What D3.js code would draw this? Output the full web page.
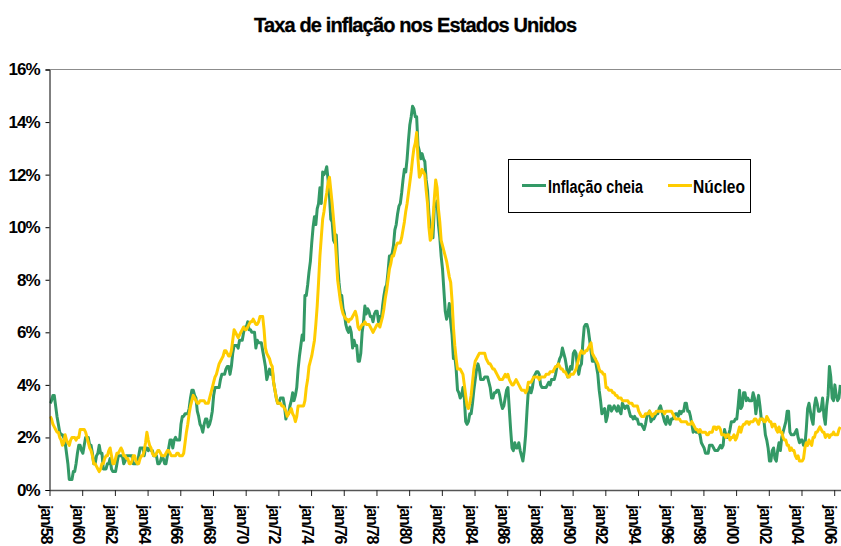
<!DOCTYPE html>
<html>
<head>
    <meta charset="UTF-8">
    <title>Taxa de inflação nos Estados Unidos</title>
    <script src="https://d3js.org/d3.v7.min.js"></script>
    <style>
        body { margin: 0; padding: 0; background: #fff; overflow: hidden; }
        svg { display: block; }
        text { font-family: "Liberation Sans", Arial, sans-serif; font-weight: bold; fill: #000; }
    </style>
</head>
<body>
<svg width="841" height="546"></svg>
<script>
// série mensal a partir de jan/1958 (variação em 12 meses, %)
const startYear = 1958;

const tickLabels = ["jan/58","jan/60","jan/62","jan/64","jan/66","jan/68","jan/70","jan/72","jan/74","jan/76",
    "jan/78","jan/80","jan/82","jan/84","jan/86","jan/88","jan/90","jan/92","jan/94","jan/96",
    "jan/98","jan/00","jan/02","jan/04","jan/06"];

const yTicks = [0, 2, 4, 6, 8, 10, 12, 14, 16];

const seriesNames = ["Inflação cheia", "Núcleo"];

// Inflação cheia (CPI)
const inflacaoCheia = [
    3.3, 3.4, 3.6, 3.6, 3.2, 2.8, 2.5, 2.2, 2.1, 2.1, 2.0, 1.8,   // 1958
    1.4, 1.0, 0.4, 0.4, 0.4, 0.7, 0.7, 1.0, 1.4, 1.7, 1.7, 1.5,   // 1959
    1.4, 1.7, 2.0, 2.0, 2.0, 1.7, 1.7, 1.4, 1.0, 1.0, 1.3, 1.4,   // 1960
    1.7, 1.4, 1.4, 0.8, 0.8, 0.8, 1.0, 1.0, 1.2, 0.8, 0.7, 0.7,   // 1961
    0.7, 1.0, 1.3, 1.3, 1.3, 1.3, 1.0, 1.1, 1.3, 1.3, 1.3, 1.3,   // 1962
    1.3, 1.0, 1.0, 1.0, 1.0, 1.3, 1.6, 1.6, 1.6, 1.3, 1.6, 1.6,   // 1963
    1.5, 1.6, 1.5, 1.5, 1.3, 1.3, 1.3, 1.0, 1.0, 1.1, 1.3, 1.2,   // 1964
    1.0, 1.0, 1.3, 1.6, 1.9, 1.9, 1.6, 1.9, 2.0, 1.9, 1.9, 1.9,   // 1965
    2.5, 2.8, 2.8, 2.9, 2.9, 2.9, 3.1, 3.5, 3.8, 3.8, 3.6, 3.5,   // 1966
    3.0, 2.8, 2.5, 2.4, 2.2, 2.5, 2.7, 2.7, 2.4, 2.5, 2.7, 3.0,   // 1967
    3.6, 3.9, 3.9, 3.9, 3.9, 4.2, 4.4, 4.4, 4.4, 4.6, 4.7, 4.7,   // 1968
    4.4, 4.7, 5.2, 5.5, 5.5, 5.5, 5.4, 5.7, 5.7, 5.7, 6.0, 6.2,   // 1969
    6.2, 6.4, 6.1, 6.1, 6.0, 6.0, 6.0, 5.4, 5.7, 5.6, 5.6, 5.6,   // 1970
    5.3, 5.0, 4.7, 4.2, 4.4, 4.6, 4.4, 4.6, 4.1, 3.8, 3.5, 3.3,   // 1971
    3.3, 3.5, 3.5, 3.5, 3.2, 2.7, 2.9, 2.9, 3.2, 3.4, 3.7, 3.4,   // 1972
    3.6, 3.9, 4.6, 5.1, 5.5, 5.9, 5.7, 7.4, 7.4, 7.8, 8.3, 8.7,   // 1973
    9.4, 10.0, 10.4, 10.1, 10.7, 10.9, 11.5, 10.9, 12.1, 12.0, 12.1, 12.3, // 1974
    11.8, 11.2, 10.3, 10.2, 9.5, 9.4, 9.7, 8.6, 7.9, 7.4, 7.4, 6.9,   // 1975
    6.7, 6.3, 6.1, 6.0, 6.2, 6.0, 5.4, 5.7, 5.5, 5.5, 4.9, 4.9,   // 1976
    5.2, 6.0, 6.4, 7.0, 6.7, 6.9, 6.8, 6.6, 6.6, 6.4, 6.7, 6.8,   // 1977
    6.8, 6.4, 6.6, 6.5, 7.0, 7.4, 7.7, 7.8, 8.3, 8.9, 8.9, 9.0,   // 1978
    9.3, 9.9, 10.1, 10.5, 10.8, 10.9, 11.3, 11.8, 12.2, 12.1, 12.6, 13.3, // 1979
    13.9, 14.2, 14.6, 14.5, 14.2, 14.2, 13.1, 12.9, 12.6, 12.8, 12.6, 12.5, // 1980
    11.8, 11.4, 10.5, 10.0, 9.8, 9.6, 10.8, 10.8, 11.0, 10.1, 9.6, 8.9, // 1981
    8.4, 7.6, 6.8, 6.5, 6.7, 7.1, 6.4, 5.9, 5.0, 5.1, 4.6, 3.8,   // 1982
    3.7, 3.5, 3.6, 3.9, 3.5, 2.6, 2.5, 2.6, 2.9, 2.9, 3.3, 3.8,   // 1983
    4.2, 4.6, 4.8, 4.6, 4.2, 4.2, 4.2, 4.3, 4.3, 4.3, 4.1, 3.9,   // 1984
    3.5, 3.5, 3.7, 3.7, 3.8, 3.8, 3.6, 3.3, 3.1, 3.2, 3.5, 3.8,   // 1985
    3.9, 3.1, 2.3, 1.6, 1.5, 1.8, 1.6, 1.6, 1.8, 1.5, 1.3, 1.1,   // 1986
    1.5, 2.1, 3.0, 3.8, 3.9, 3.7, 3.9, 4.3, 4.4, 4.5, 4.5, 4.4,   // 1987
    4.0, 3.9, 3.9, 3.9, 3.9, 4.0, 4.1, 4.0, 4.2, 4.2, 4.2, 4.4,   // 1988
    4.7, 4.8, 5.0, 5.1, 5.4, 5.2, 5.0, 4.7, 4.3, 4.5, 4.7, 4.6,   // 1989
    5.2, 5.3, 5.2, 4.7, 4.4, 4.7, 4.8, 5.6, 6.2, 6.3, 6.3, 6.1,   // 1990
    5.7, 5.3, 4.9, 4.9, 5.0, 4.7, 4.4, 3.8, 3.4, 2.9, 3.0, 3.1,   // 1991
    2.6, 2.8, 3.2, 3.2, 3.0, 3.1, 3.2, 3.1, 3.0, 3.2, 3.0, 2.9,   // 1992
    3.3, 3.2, 3.1, 3.2, 3.2, 3.0, 2.8, 2.8, 2.7, 2.8, 2.7, 2.7,   // 1993
    2.5, 2.5, 2.5, 2.4, 2.3, 2.5, 2.8, 2.9, 3.0, 2.6, 2.7, 2.7,   // 1994
    2.8, 2.9, 2.9, 3.1, 3.2, 3.0, 2.8, 2.6, 2.5, 2.8, 2.6, 2.5,   // 1995
    2.7, 2.7, 2.8, 2.9, 2.9, 2.8, 3.0, 2.9, 3.0, 3.0, 3.3, 3.3,   // 1996
    3.0, 3.0, 2.8, 2.5, 2.2, 2.3, 2.2, 2.2, 2.2, 2.1, 1.8, 1.7,   // 1997
    1.6, 1.4, 1.4, 1.4, 1.7, 1.7, 1.7, 1.6, 1.5, 1.5, 1.5, 1.6,   // 1998
    1.7, 1.6, 1.7, 2.3, 2.1, 2.0, 2.1, 2.3, 2.6, 2.6, 2.6, 2.7,   // 1999
    2.7, 3.2, 3.8, 3.1, 3.2, 3.7, 3.7, 3.4, 3.5, 3.4, 3.4, 3.4,   // 2000
    3.7, 3.5, 2.9, 3.3, 3.6, 3.2, 2.7, 2.7, 2.6, 2.1, 1.9, 1.6,   // 2001
    1.1, 1.1, 1.5, 1.6, 1.2, 1.1, 1.5, 1.8, 1.5, 2.0, 2.2, 2.4,   // 2002
    2.6, 3.0, 3.0, 2.2, 2.1, 2.1, 2.1, 2.2, 2.3, 2.0, 1.8, 1.9,   // 2003
    1.9, 1.7, 1.7, 2.3, 3.1, 3.3, 3.0, 2.7, 2.5, 3.2, 3.5, 3.3,   // 2004
    3.0, 3.0, 3.1, 3.5, 2.8, 2.5, 3.2, 3.6, 4.7, 4.3, 3.5, 3.4,   // 2005
    4.0, 3.6, 3.4, 3.5, 4.0                                        // 2006
];

// Núcleo (CPI sem alimentos e energia)
const nucleo = [
    2.8, 2.7, 2.5, 2.4, 2.3, 2.2, 2.2, 2.0, 1.9, 1.7, 1.8, 2.1,   // 1958
    1.9, 1.8, 1.7, 1.9, 2.0, 2.0, 2.0, 1.9, 2.0, 2.0, 2.3, 2.3,   // 1959
    2.3, 2.3, 2.2, 2.0, 1.8, 1.6, 1.5, 1.3, 1.0, 1.0, 0.9, 0.8,   // 1960
    0.7, 0.8, 1.0, 1.0, 1.2, 1.3, 1.3, 1.5, 1.6, 1.3, 1.0, 1.0,   // 1961
    1.2, 1.4, 1.4, 1.5, 1.6, 1.5, 1.3, 1.3, 1.2, 1.2, 1.0, 1.0,   // 1962
    1.1, 1.3, 1.3, 1.1, 1.0, 1.0, 1.2, 1.3, 1.3, 1.5, 1.8, 2.2,   // 1963
    1.9, 1.7, 1.6, 1.4, 1.3, 1.3, 1.4, 1.5, 1.5, 1.4, 1.3, 1.3,   // 1964
    1.3, 1.4, 1.5, 1.5, 1.4, 1.3, 1.3, 1.3, 1.3, 1.4, 1.4, 1.3,   // 1965
    1.3, 1.3, 1.4, 1.8, 2.2, 2.5, 2.9, 3.2, 3.4, 3.6, 3.5, 3.4,   // 1966
    3.3, 3.3, 3.4, 3.4, 3.4, 3.4, 3.3, 3.3, 3.3, 3.5, 3.7, 3.9,   // 1967
    4.1, 4.3, 4.4, 4.6, 4.8, 4.9, 5.0, 5.1, 5.3, 5.3, 5.2, 5.1,   // 1968
    5.1, 5.3, 5.7, 6.1, 6.0, 5.9, 5.8, 5.9, 6.0, 6.1, 6.2, 6.1,   // 1969
    6.1, 6.2, 6.3, 6.4, 6.4, 6.5, 6.4, 6.3, 6.3, 6.4, 6.6, 6.6,   // 1970
    6.6, 6.1, 5.4, 5.2, 5.1, 5.0, 4.8, 4.7, 4.1, 3.8, 3.5, 3.3,   // 1971
    3.3, 3.3, 3.2, 3.2, 3.1, 3.0, 2.8, 2.9, 3.0, 3.1, 2.9, 2.8,   // 1972
    2.6, 2.8, 3.2, 3.2, 3.2, 3.2, 3.2, 3.4, 3.9, 4.2, 4.7, 4.9,   // 1973
    5.1, 5.4, 5.7, 6.3, 7.0, 7.9, 8.9, 9.6, 10.3, 10.6, 11.0, 11.3, // 1974
    11.7, 11.9, 11.4, 10.9, 10.3, 9.7, 8.9, 8.0, 7.6, 7.2, 6.9, 6.7, // 1975
    6.6, 6.5, 6.5, 6.4, 6.5, 6.5, 6.6, 6.7, 6.8, 6.6, 6.2, 6.1,   // 1976
    6.2, 6.3, 6.3, 6.4, 6.3, 6.3, 6.3, 6.2, 6.1, 6.0, 6.1, 6.2,   // 1977
    6.3, 6.3, 6.2, 6.4, 6.6, 6.9, 7.3, 7.6, 8.0, 8.4, 8.6, 8.9,   // 1978
    8.9, 9.1, 9.3, 9.4, 9.4, 9.4, 9.6, 9.9, 10.2, 10.6, 10.9, 11.3, // 1979
    11.7, 12.1, 12.6, 13.0, 13.2, 13.6, 12.6, 11.9, 12.0, 12.2, 12.1, 12.0, // 1980
    11.4, 10.9, 10.0, 9.5, 9.6, 10.3, 11.1, 11.8, 11.5, 10.7, 10.2, 9.5, // 1981
    9.3, 9.1, 8.9, 8.7, 8.4, 8.1, 7.9, 7.2, 6.2, 5.5, 5.0, 4.6,   // 1982
    4.6, 4.6, 4.5, 4.4, 4.0, 3.6, 3.2, 3.1, 3.3, 3.6, 4.1, 4.6,   // 1983
    4.9, 5.0, 5.1, 5.2, 5.2, 5.2, 5.2, 5.2, 5.0, 4.9, 4.8, 4.8,   // 1984
    4.7, 4.6, 4.6, 4.5, 4.4, 4.3, 4.2, 4.2, 4.2, 4.3, 4.4, 4.3,   // 1985
    4.4, 4.2, 4.1, 4.0, 4.0, 4.1, 4.2, 4.1, 4.0, 3.9, 3.8, 3.8,   // 1986
    3.8, 3.7, 3.8, 4.1, 4.1, 4.1, 4.2, 4.3, 4.3, 4.3, 4.3, 4.2,   // 1987
    4.3, 4.3, 4.3, 4.3, 4.4, 4.4, 4.4, 4.5, 4.5, 4.5, 4.6, 4.7,   // 1988
    4.7, 4.8, 4.7, 4.6, 4.6, 4.5, 4.5, 4.4, 4.3, 4.3, 4.4, 4.4,   // 1989
    4.4, 4.5, 4.6, 4.8, 5.0, 5.2, 5.3, 5.2, 5.2, 5.3, 5.3, 5.4,   // 1990
    5.5, 5.6, 5.2, 5.1, 5.0, 4.9, 4.8, 4.6, 4.5, 4.5, 4.4, 4.4,   // 1991
    3.9, 3.9, 3.8, 3.8, 3.8, 3.7, 3.7, 3.6, 3.6, 3.5, 3.5, 3.5,   // 1992
    3.4, 3.4, 3.4, 3.4, 3.4, 3.3, 3.3, 3.3, 3.2, 3.2, 3.2, 3.2,   // 1993
    3.0, 2.9, 2.8, 2.8, 2.8, 2.9, 2.9, 2.9, 3.0, 2.9, 2.8, 2.9,   // 1994
    2.9, 3.0, 3.0, 3.0, 3.0, 3.0, 3.0, 2.9, 3.0, 3.0, 3.0, 3.0,   // 1995
    3.0, 2.9, 2.8, 2.7, 2.7, 2.7, 2.7, 2.6, 2.6, 2.6, 2.6, 2.6,   // 1996
    2.5, 2.5, 2.5, 2.6, 2.5, 2.4, 2.3, 2.3, 2.2, 2.3, 2.2, 2.2,   // 1997
    2.2, 2.2, 2.1, 2.1, 2.2, 2.2, 2.2, 2.4, 2.4, 2.3, 2.4, 2.4,   // 1998
    2.3, 2.1, 2.1, 2.1, 2.0, 2.1, 2.1, 1.9, 2.0, 2.0, 2.1, 1.9,   // 1999
    2.0, 2.2, 2.4, 2.2, 2.4, 2.5, 2.5, 2.6, 2.6, 2.5, 2.6, 2.6,   // 2000
    2.6, 2.7, 2.7, 2.6, 2.5, 2.7, 2.7, 2.7, 2.6, 2.6, 2.8, 2.7,   // 2001
    2.6, 2.6, 2.4, 2.5, 2.5, 2.3, 2.2, 2.4, 2.2, 2.2, 2.0, 1.9,   // 2002
    1.9, 1.7, 1.7, 1.5, 1.6, 1.5, 1.5, 1.3, 1.2, 1.3, 1.1, 1.1,   // 2003
    1.1, 1.2, 1.6, 1.8, 1.7, 1.9, 1.8, 1.7, 2.0, 2.0, 2.2, 2.2,   // 2004
    2.3, 2.4, 2.3, 2.2, 2.2, 2.0, 2.1, 2.1, 2.0, 2.1, 2.1, 2.2,   // 2005
    2.1, 2.1, 2.1, 2.3, 2.4                                        // 2006
];

const colors = ["#339966", "#ffcc00"];

const svg = d3.select("svg");
const nCats = inflacaoCheia.length;

// escalas
const x = d3.scaleLinear().domain([0, nCats]).range([49.5, 841]);
const y = d3.scaleLinear().domain([0, 16]).range([490, 69.5]);

// título
svg.append("text")
    .attr("x", 415.5).attr("y", 32)
    .attr("text-anchor", "middle")
    .attr("font-size", 20)
    .attr("textLength", 323)
    .attr("lengthAdjust", "spacing")
    .attr("stroke", "#000").attr("stroke-width", 0.3)
    .text("Taxa de inflação nos Estados Unidos");

// borda superior da área do gráfico
svg.append("line")
    .attr("x1", x(0)).attr("x2", 841)
    .attr("y1", y(16)).attr("y2", y(16))
    .attr("stroke", "#8c8c8c").attr("stroke-width", 1);

// linhas
svg.append("clipPath").attr("id", "plot")
    .append("rect").attr("x", x(0)).attr("y", y(16) - 2)
    .attr("width", 841 - x(0)).attr("height", y(0) - y(16) + 2);

const line = d3.line()
    .x((d, i) => x(i + 0.5))
    .y(d => y(d));

const g = svg.append("g").attr("clip-path", "url(#plot)");
[inflacaoCheia, nucleo].forEach((s, k) => {
    g.append("path")
        .datum(s)
        .attr("fill", "none")
        .attr("stroke", colors[k])
        .attr("stroke-width", 3)
        .attr("stroke-linejoin", "round")
        .attr("d", line);
});

// eixo Y
const yAxis = svg.append("g")
    .attr("transform", `translate(${x(0)},0)`)
    .call(d3.axisLeft(y).tickValues(yTicks).tickSize(4).tickPadding(6).tickFormat(d => d + "%"));
yAxis.select(".domain").attr("stroke", "#000");
yAxis.selectAll(".tick line").attr("stroke", "#000");
yAxis.selectAll("text")
    .attr("font-size", 17)
    .attr("font-family", "'Liberation Sans', Arial, sans-serif")
    .attr("font-weight", "bold")
    .attr("letter-spacing", -1)
    .attr("fill", "#000");

// eixo X
const tickIdx = tickLabels.map((t, i) => i * 24);
const xAxis = svg.append("g")
    .attr("transform", `translate(0,${y(0)})`)
    .call(d3.axisBottom(x).tickValues(tickIdx).tickSize(6).tickSizeOuter(0).tickFormat(""));
xAxis.select(".domain").attr("stroke", "#555").attr("stroke-width", 1.5);
xAxis.selectAll(".tick line").attr("stroke", "#222");

svg.append("g").selectAll("text")
    .data(tickLabels)
    .join("text")
    .attr("transform", (d, i) => `translate(${x(tickIdx[i]) - 9},505) rotate(90)`)
    .attr("font-size", 16)
    .attr("letter-spacing", -1.2)
    .text(d => d);

// legenda
const legend = svg.append("g");
legend.append("rect")
    .attr("x", 508.5).attr("y", 159.5)
    .attr("width", 242).attr("height", 53)
    .attr("fill", "#fff").attr("stroke", "#000").attr("stroke-width", 1);

const legendItems = [
    { name: seriesNames[0], color: colors[0], x0: 522, tx: 548, tw: 95 },
    { name: seriesNames[1], color: colors[1], x0: 668, tx: 693, tw: 52 }
];
legendItems.forEach(it => {
    legend.append("line")
        .attr("x1", it.x0).attr("x2", it.x0 + 24)
        .attr("y1", 185.5).attr("y2", 185.5)
        .attr("stroke", it.color).attr("stroke-width", 3);
    legend.append("text")
        .attr("x", it.tx).attr("y", 192.5)
        .attr("font-size", 17.5)
        .attr("textLength", it.tw)
        .attr("lengthAdjust", "spacingAndGlyphs")
        .text(it.name);
});
</script>
</body>
</html>
